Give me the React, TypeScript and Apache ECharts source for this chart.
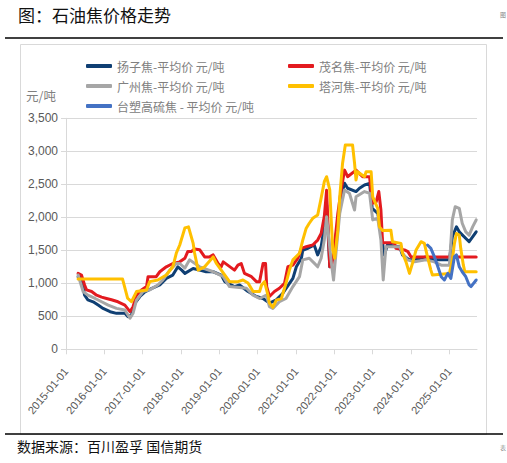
import React, { useEffect, useRef } from "react";
import * as echarts from "echarts";

// ---- data ----
const seriesNames = [
  "扬子焦-平均价 元/吨",
  "茂名焦-平均价 元/吨",
  "广州焦-平均价 元/吨",
  "塔河焦-平均价 元/吨",
  "台塑高硫焦 - 平均价 元/吨",
];

const yangziDates = ["2015-04-26","2015-05-28","2015-06-27","2015-07-28","2015-09-16","2015-11-03","2015-12-20","2016-02-25","2016-04-26","2016-07-15","2016-08-14","2016-09-16","2016-10-19","2016-12-06","2017-01-22","2017-03-24","2017-06-13","2017-08-14","2017-10-15","2017-12-02","2018-01-08","2018-02-07","2018-04-26","2018-06-27","2018-08-28","2018-11-03","2019-01-19","2019-02-21","2019-05-25","2019-07-12","2019-10-01","2019-12-20","2020-02-21","2020-04-22","2020-06-27","2020-08-28","2020-12-02","2021-01-04","2021-02-21","2021-03-06","2021-04-22","2021-06-23","2021-07-26","2021-08-28","2021-09-27","2021-10-19","2021-11-18","2021-12-17","2022-02-03","2022-03-06","2022-04-08","2022-05-07","2022-07-26","2022-08-28","2022-10-15","2022-12-02","2022-12-27","2023-02-18","2023-03-06","2023-04-05","2023-04-22","2023-05-21","2023-09-13","2023-10-12","2023-12-17","2024-02-03","2024-05-21","2024-08-10","2025-01-01","2025-01-29","2025-03-09","2025-04-05","2025-07-08","2025-08-10","2025-09-13"];
const yangziValues = [1100,1080,820,750,720,670,620,570,545,545,495,520,700,800,870,920,975,1075,1125,1250,1200,1150,1225,1200,1175,1175,1125,1025,950,975,875,800,770,700,750,850,1075,1250,1380,1500,1530,1580,1430,1555,1860,2190,1250,1400,1910,2310,2515,2440,2390,2440,2490,2515,2135,2060,1910,1605,1430,1580,1555,1430,1355,1355,1400,1355,1355,1705,1855,1780,1630,1705,1780];

const maomingDates = ["2015-04-26","2015-05-28","2015-06-27","2015-07-15","2015-09-02","2015-10-19","2015-12-06","2016-01-22","2016-03-09","2016-05-10","2016-07-15","2016-09-02","2016-10-01","2016-11-03","2016-12-20","2017-02-07","2017-02-21","2017-05-10","2017-06-13","2017-08-14","2017-10-15","2017-12-20","2018-02-07","2018-03-06","2018-04-08","2018-05-10","2018-06-27","2018-08-14","2018-10-01","2018-11-03","2018-12-20","2019-01-19","2019-02-07","2019-05-25","2019-06-27","2019-07-28","2019-08-28","2019-11-03","2019-12-20","2020-01-19","2020-02-21","2020-03-16","2020-03-27","2020-04-22","2020-06-09","2020-07-26","2020-09-13","2020-10-15","2020-12-02","2021-01-19","2021-02-21","2021-04-08","2021-06-09","2021-07-26","2021-08-28","2021-09-27","2021-10-19","2021-11-18","2021-12-06","2022-01-04","2022-02-03","2022-03-06","2022-04-08","2022-05-07","2022-07-26","2022-09-27","2022-12-02","2022-12-27","2023-02-03","2023-02-28","2023-03-20","2023-04-05","2023-07-26","2023-08-10","2023-10-30","2023-12-02","2024-01-01","2025-09-13"];
const maomingValues = [1150,1125,975,900,875,820,790,770,750,720,670,570,645,820,900,950,1100,1100,1175,1250,1300,1325,1380,1480,1480,1520,1510,1400,1400,1430,1300,1250,1325,1200,1275,1300,1150,1100,1025,1025,1300,1300,950,800,875,925,1000,1250,1275,1380,1530,1555,1580,1655,1755,2010,2410,1250,1250,1605,2060,2410,2715,2615,2715,2615,2615,2210,2235,2390,2110,1615,1615,1530,1505,1480,1400,1400];

const guangzhouDates = ["2015-04-26","2015-06-13","2015-07-28","2015-10-05","2015-12-06","2016-02-07","2016-04-26","2016-07-15","2016-09-02","2016-10-01","2016-11-03","2017-01-04","2017-03-09","2017-05-25","2017-07-12","2017-09-16","2017-11-18","2017-12-20","2018-02-07","2018-03-24","2018-06-27","2018-11-03","2019-02-07","2019-04-08","2019-09-16","2019-11-18","2020-01-19","2020-03-24","2020-04-22","2020-05-25","2020-07-26","2020-09-27","2020-12-02","2021-02-03","2021-03-06","2021-05-07","2021-06-23","2021-07-26","2021-08-28","2021-09-27","2021-10-19","2021-12-02","2021-12-24","2022-01-19","2022-02-21","2022-04-08","2022-05-25","2022-07-12","2022-07-26","2022-10-15","2022-12-02","2023-01-01","2023-02-18","2023-03-20","2023-04-11","2023-05-07","2023-09-13","2023-10-12","2023-11-28","2024-02-03","2024-05-21","2024-08-10","2024-10-15","2025-01-01","2025-01-29","2025-02-25","2025-04-05","2025-05-03","2025-06-06","2025-07-08","2025-08-10","2025-09-13"];
const guangzhouValues = [1125,875,820,770,720,670,620,595,470,545,745,875,900,975,1050,1200,1300,1300,1230,1355,1250,1175,1100,950,925,820,770,820,645,620,720,770,950,1100,1355,1380,1305,1250,1380,1655,2010,1325,1050,1505,2060,2415,2360,2110,2310,2390,2365,1960,1985,1655,1050,1555,1555,1455,1355,1325,1355,1325,1275,1275,1960,2160,2135,1910,1780,1730,1855,1960];

const taheDates = ["2015-04-26","2016-06-23","2016-08-10","2016-09-16","2016-11-03","2017-02-07","2017-03-09","2017-05-25","2017-08-14","2017-10-15","2017-11-18","2017-12-20","2018-02-07","2018-03-13","2018-04-26","2018-05-10","2018-06-13","2018-08-14","2018-11-03","2018-12-02","2019-01-19","2019-04-08","2019-06-27","2019-08-14","2019-10-01","2019-11-18","2020-01-19","2020-02-07","2020-03-06","2020-04-08","2020-04-22","2020-05-25","2020-06-27","2020-08-14","2020-09-27","2020-10-30","2020-12-02","2021-02-03","2021-03-06","2021-04-08","2021-05-07","2021-06-09","2021-07-26","2021-08-28","2021-09-27","2021-10-19","2021-11-18","2021-12-02","2021-12-17","2022-01-04","2022-02-03","2022-02-21","2022-03-20","2022-04-15","2022-06-23","2022-07-12","2022-07-26","2022-08-10","2022-10-15","2022-10-30","2022-12-17","2023-01-01","2023-02-18","2023-03-06","2023-04-05","2023-06-23","2023-07-08","2023-09-27","2023-10-12","2023-11-14","2023-12-17","2024-01-15","2024-02-18","2024-04-05","2024-05-07","2024-06-06","2024-07-08","2024-07-23","2025-01-01","2025-01-29","2025-02-18","2025-03-09","2025-04-05","2025-04-19","2025-05-14","2025-05-28","2025-09-13"];
const taheValues = [1065,1065,775,720,875,900,1025,1050,1125,1250,1460,1580,1840,1855,1610,1460,1200,1250,1400,1305,1200,1025,1025,1050,1005,875,875,975,1025,820,700,635,745,770,1000,1200,1355,1455,1655,1835,1910,1985,2035,2290,2540,2615,2415,1960,1505,1380,1805,2310,2820,3095,3095,2820,2565,2690,2615,2690,2690,2310,2135,1855,1800,1805,1630,1605,1455,1325,1150,1305,1505,1630,1605,1400,1200,1125,1150,1355,1605,1755,1730,1530,1275,1175,1175];

const taisuDates = ["2024-06-06","2024-07-08","2024-08-10","2024-09-13","2024-10-15","2024-11-14","2024-12-17","2025-01-15","2025-02-18","2025-03-09","2025-04-05","2025-05-03","2025-06-06","2025-07-08","2025-07-26","2025-09-13"];
const taisuValues = [1580,1530,1405,1250,1100,1050,1150,1075,1405,1430,1250,1175,1100,975,950,1050];

const yearTicks = [2015, 2016, 2017, 2018, 2019, 2020, 2021, 2022, 2023, 2024, 2025];
const seriesColors = ["#0F3F73", "#E31A1F", "#A6A6A6", "#FFC000", "#4472C4"];

function toYear(s: string): number {
  const [y, m, d] = s.split("-").map(Number);
  const start = Date.UTC(y, 0, 1);
  const end = Date.UTC(y + 1, 0, 1);
  return y + (Date.UTC(y, m - 1, d) - start) / (end - start);
}

function pairs(dates: string[], values: number[]) {
  return dates.map((d, i) => [toYear(d), values[i]]);
}

export default function App() {
  const ref = useRef<HTMLDivElement>(null);

  useEffect(() => {
    if (!ref.current) return;
    const chart = echarts.init(ref.current, undefined, { renderer: "svg" });
    const allData = [
      pairs(yangziDates, yangziValues),
      pairs(maomingDates, maomingValues),
      pairs(guangzhouDates, guangzhouValues),
      pairs(taheDates, taheValues),
      pairs(taisuDates, taisuValues),
    ];
    const cjk = "'Noto Sans CJK SC', 'Noto Sans', sans-serif";
    const legendCommon = {
      orient: "vertical",
      itemWidth: 26,
      itemHeight: 4,
      itemGap: 6,
      icon: "roundRect",
      textStyle: { fontFamily: cjk, fontSize: 12, color: "#808080", lineHeight: 14 },
    };
    chart.setOption({
      animation: false,
      textStyle: { fontFamily: cjk },
      grid: { left: 66, top: 118.3, width: 411, height: 231, containLabel: false },
      legend: [
        { ...legendCommon, left: 81, top: 54, data: [seriesNames[0], seriesNames[2], seriesNames[4]] },
        { ...legendCommon, left: 283, top: 54, data: [seriesNames[1], seriesNames[3]] },
      ],
      xAxis: {
        type: "value",
        min: 2015,
        max: 2025.72,
        interval: 1,
        splitLine: { show: false },
        axisLine: { show: true, lineStyle: { color: "#D9D9D9", width: 1 } },
        axisTick: {
          show: true,
          length: 5,
          customValues: yearTicks,
          lineStyle: { color: "#D9D9D9" },
        },
        axisLabel: {
          customValues: yearTicks,
          rotate: 50,
          margin: 20,
          fontSize: 11,
          color: "#595959",
          fontFamily: "'Liberation Sans', 'DejaVu Sans', sans-serif",
          formatter: (v: number) => (Number.isInteger(v) ? `${v}-01-01` : ""),
        },
      },
      yAxis: {
        type: "value",
        min: 0,
        max: 3500,
        interval: 500,
        axisLine: { show: true, lineStyle: { color: "#D9D9D9", width: 1 } },
        axisTick: { show: true, length: 5, lineStyle: { color: "#D9D9D9" } },
        splitLine: { show: true, lineStyle: { color: "#D9D9D9", width: 1 } },
        axisLabel: {
          margin: 8,
          fontSize: 12,
          color: "#595959",
          fontFamily: "'Liberation Sans', 'DejaVu Sans', sans-serif",
          formatter: (v: number) => v.toLocaleString("en-US"),
        },
      },
      series: seriesNames.map((name, i) => ({
        name,
        type: "line",
        data: allData[i],
        showSymbol: false,
        symbol: "none",
        lineStyle: { width: 3, color: seriesColors[i], cap: "round", join: "round" },
        itemStyle: { color: seriesColors[i] },
        z: 2 + i,
      })),
      graphic: [
        {
          type: "text",
          left: 18,
          top: 6,
          style: { text: "图：石油焦价格走势", fontSize: 17, fontFamily: cjk, fill: "#111" },
        },
        {
          type: "text",
          left: 500,
          top: 11,
          style: { text: "图", fontSize: 6, fontFamily: cjk, fill: "#888" },
        },
        {
          type: "line",
          shape: { x1: 5, y1: 38, x2: 503, y2: 38 },
          style: { stroke: "#000", lineWidth: 1.5 },
        },
        {
          type: "rect",
          shape: { x: 20.5, y: 44.5, width: 466, height: 390 },
          style: { fill: "none", stroke: "#D9D9D9", lineWidth: 1 },
        },
        {
          type: "line",
          shape: { x1: 5, y1: 434, x2: 503, y2: 434 },
          style: { stroke: "#000", lineWidth: 1.5 },
          z: 10,
        },
        {
          type: "text",
          left: 26,
          top: 89,
          style: { text: "元/吨", fontSize: 12.5, fontFamily: cjk, fill: "#808080" },
        },
        {
          type: "text",
          left: 17,
          top: 439,
          style: { text: "数据来源：百川盈孚 国信期货", fontSize: 14, fontFamily: cjk, fill: "#111" },
        },
        {
          type: "text",
          left: 500,
          top: 444,
          style: { text: "表", fontSize: 6, fontFamily: cjk, fill: "#888" },
        },
      ],
    });
    return () => chart.dispose();
  }, []);

  return (
    <div
      ref={ref}
      style={{ position: "absolute", left: 0, top: 0, width: 507, height: 463, background: "#fff" }}
    />
  );
}
